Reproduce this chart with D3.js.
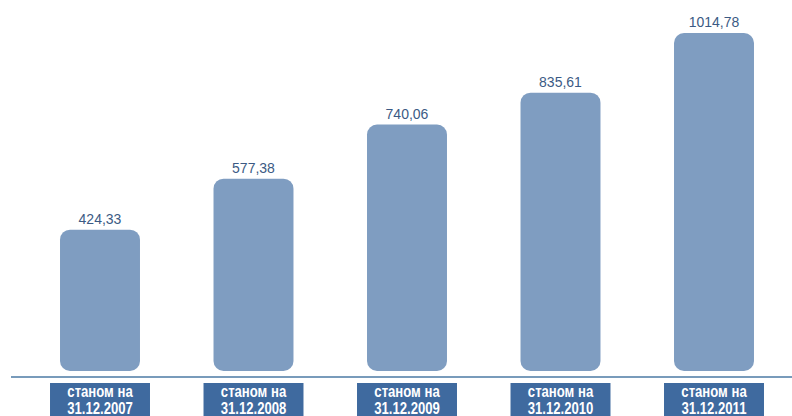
<!DOCTYPE html>
<html>
<head>
<meta charset="utf-8">
<script src="https://cdn.jsdelivr.net/npm/d3@7"></script>
<style>
	body { margin: 0; background: #fff; }
	svg { display: block; }
	.value { font-family: Arial, "Liberation Sans", sans-serif; font-size: 14px; fill: #3b5a84; }
	.cat { font-family: "Liberation Sans", Arial, sans-serif; font-weight: bold; font-size: 16px; fill: #fff; }
</style>
</head>
<body>
<div id="chart"></div>
<script>
// data
const dates = ['31.12.2007', '31.12.2008', '31.12.2009', '31.12.2010', '31.12.2011'];
const values = [424.33, 577.38, 740.06, 835.61, 1014.78];
const catPrefix = 'станом на';

const width = 792;
const height = 416;
const baseY = 371;

const svg = d3.select('#chart')
	.append('svg')
	.attr('width', width)
	.attr('height', height);

const x = d3.scaleBand()
	.domain(dates)
	.range([23.25, 790.75])
	.paddingInner(0.479)
	.paddingOuter(0.2395);

const y = d3.scaleLinear()
	.domain([0, 1014.78])
	.range([baseY, 33]);

const fmt = v => d3.format('.2f')(v).replace('.', ',');

// bars (rounded)
svg.append('g')
	.selectAll('rect')
	.data(dates)
	.join('rect')
		.attr('x', d => x(d))
		.attr('y', (d, i) => y(values[i]))
		.attr('width', x.bandwidth())
		.attr('height', (d, i) => baseY - y(values[i]))
		.attr('rx', 10)
		.attr('fill', '#7f9dc1');

// value labels
svg.append('g')
	.selectAll('text')
	.data(dates)
	.join('text')
		.attr('class', 'value')
		.attr('text-anchor', 'middle')
		.attr('x', d => x(d) + x.bandwidth() / 2)
		.attr('y', (d, i) => y(values[i]) - 6)
		.text((d, i) => fmt(values[i]));

// baseline
svg.append('line')
	.attr('x1', 11)
	.attr('x2', width)
	.attr('y1', 377)
	.attr('y2', 377)
	.attr('stroke', '#4b7aa4')
	.attr('stroke-width', 1.5);

// category boxes
const cats = svg.append('g')
	.selectAll('g')
	.data(dates)
	.join('g')
		.attr('transform', d => `translate(${x(d) + x.bandwidth() / 2},0)`);

cats.append('rect')
	.attr('x', -x.bandwidth() / 2 - 10)
	.attr('y', 383)
	.attr('width', x.bandwidth() + 20)
	.attr('height', 40)
	.attr('fill', '#3f6a9f');

// condensed look: squeeze text horizontally
const labels = cats.append('g')
	.attr('transform', 'scale(0.82,1)');

labels.append('text')
	.attr('class', 'cat')
	.attr('text-anchor', 'middle')
	.attr('y', 397)
	.text(catPrefix);

labels.append('text')
	.attr('class', 'cat')
	.attr('text-anchor', 'middle')
	.attr('y', 414)
	.text(d => d);
</script>
</body>
</html>
